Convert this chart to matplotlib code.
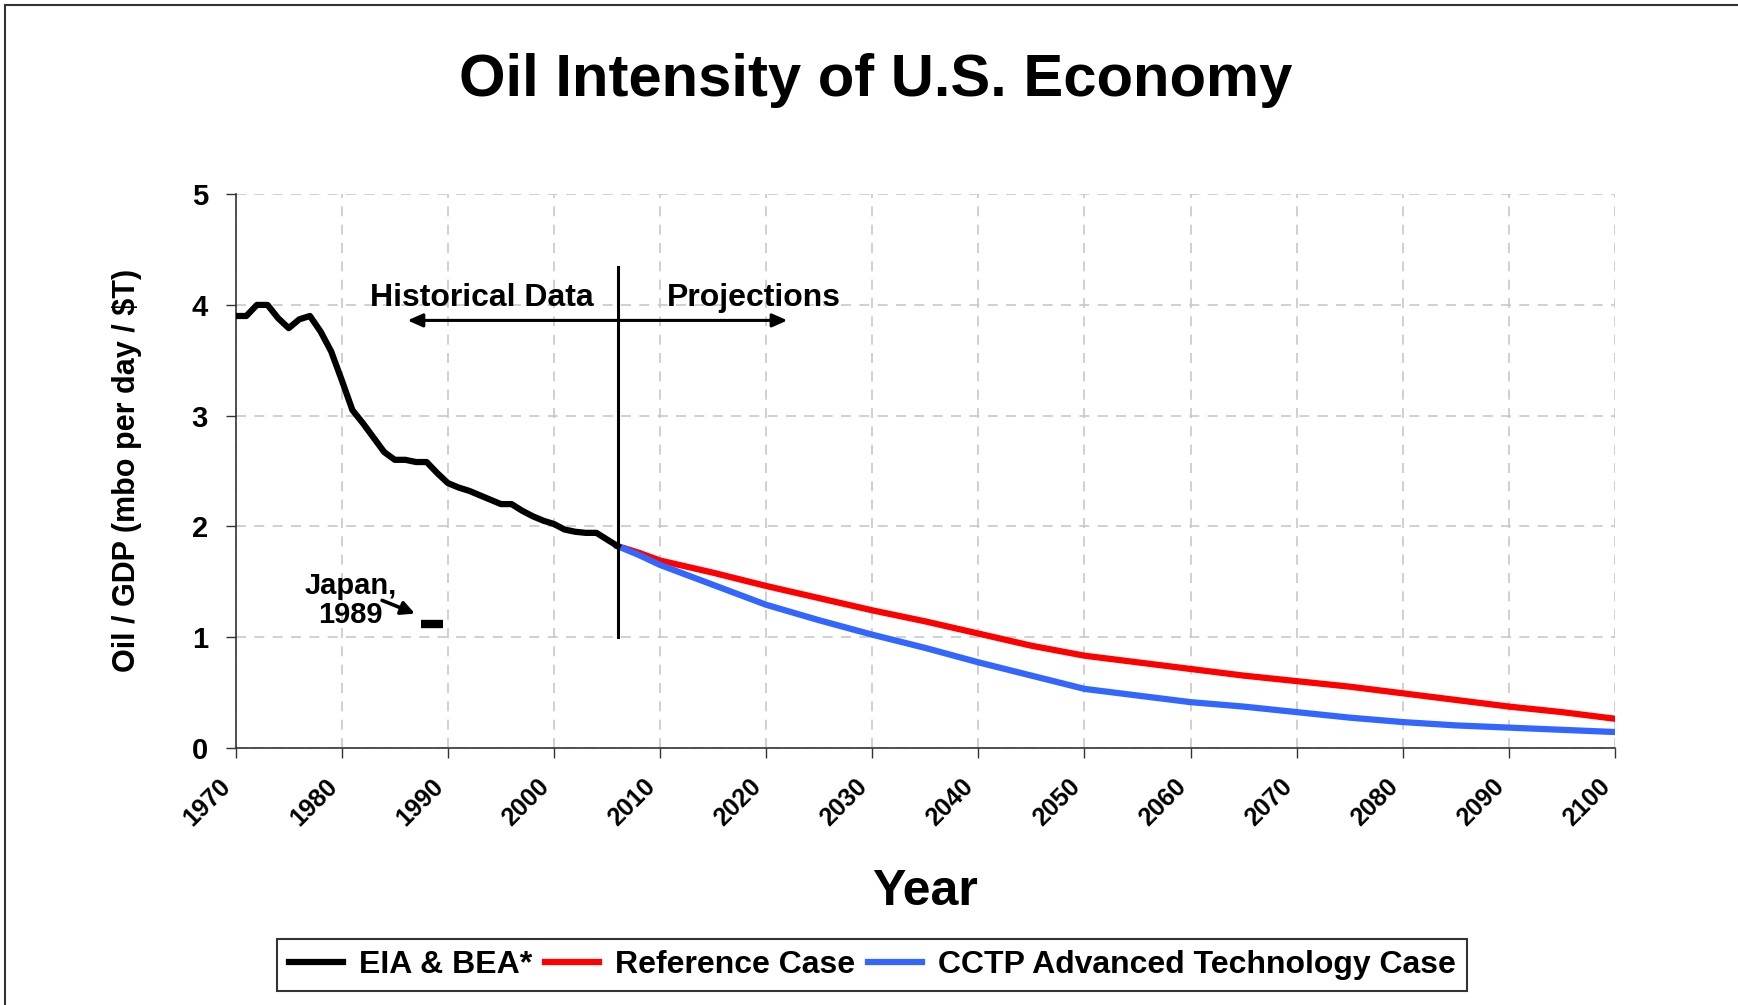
import matplotlib
matplotlib.use('Agg')
import matplotlib.pyplot as plt
from matplotlib.lines import Line2D

plt.rcParams['font.family'] = ['Liberation Sans', 'DejaVu Sans']
plt.rcParams['font.weight'] = 'bold'

# historical data (EIA & BEA), one value per year 1970-2006
hist_years = list(range(1970, 2007))
hist_vals = [3.90, 3.90, 4.00, 4.00, 3.88, 3.79, 3.87, 3.90, 3.76, 3.58,
             3.32, 3.05, 2.93, 2.80, 2.67, 2.60, 2.60, 2.58, 2.58, 2.48,
             2.39, 2.35, 2.32, 2.28, 2.24, 2.20, 2.20, 2.14, 2.09, 2.05,
             2.02, 1.97, 1.95, 1.94, 1.94, 1.88, 1.82]

# projections
proj_years = [2006, 2008, 2010, 2015, 2020, 2025, 2030, 2035, 2040, 2045, 2050,
              2055, 2060, 2065, 2070, 2075, 2080, 2085, 2090, 2095, 2100]
ref_vals = [1.82, 1.76, 1.69, 1.58, 1.46, 1.35, 1.24, 1.14, 1.03, 0.92, 0.83,
            0.77, 0.71, 0.65, 0.60, 0.55, 0.49, 0.43, 0.37, 0.32, 0.26]
cctp_vals = [1.82, 1.74, 1.65, 1.47, 1.29, 1.15, 1.02, 0.90, 0.77, 0.65, 0.53,
             0.47, 0.41, 0.37, 0.32, 0.27, 0.23, 0.20, 0.18, 0.16, 0.14]

japan_year = 1988.5
japan_val = 1.12

xticks = list(range(1970, 2101, 10))
yticks = [0, 1, 2, 3, 4, 5]

fig = plt.figure(figsize=(17.38, 10.05), dpi=100)
ax = fig.add_axes([0.1356, 0.2562, 0.7936, 0.5505])

ax.plot(proj_years, cctp_vals, color='#3366ff', lw=4.5, solid_joinstyle='round', zorder=3,
        label='CCTP Advanced Technology Case')
ax.plot(proj_years, ref_vals, color='#ff0000', lw=4.5, solid_joinstyle='round', zorder=2,
        label='Reference Case')
ax.plot(hist_years, hist_vals, color='black', lw=4.5, solid_joinstyle='round', zorder=4,
        label='EIA & BEA*')
ax.plot([japan_year], [japan_val], marker='_', ms=16, mew=6, color='black', zorder=4)

ax.set_xlim(1970, 2100)
ax.set_ylim(0, 5)
ax.set_xticks(xticks)
ax.set_yticks(yticks)
ax.set_xticklabels([str(x) for x in xticks], rotation=45, ha='right', fontsize=18, fontweight='bold')
ax.set_yticklabels([str(y) for y in yticks], fontsize=21, fontweight='bold')
ax.tick_params(axis='x', direction='out', length=7, width=1, pad=12, color='#333333')
ax.tick_params(axis='y', direction='out', length=7, width=1, pad=13, color='#333333')

ax.grid(True, color='#c8c8c8', linestyle=(0, (6, 5)), lw=1.2)
ax.set_axisbelow(True)
for s in ['top', 'right']:
    ax.spines[s].set_visible(False)
for s in ['left', 'bottom']:
    ax.spines[s].set_color('#333333')
    ax.spines[s].set_linewidth(1.2)

ax.set_ylabel('Oil / GDP (mbo per day / $T)', fontsize=22, fontweight='bold', labelpad=36)
ax.set_xlabel('Year', fontsize=36, fontweight='bold', labelpad=28)

# divider between history and projections
ax.plot([2006, 2006], [1.0, 4.34], color='black', lw=2.2, zorder=5)
ax.annotate('', xy=(1986.2, 3.86), xytext=(2022, 3.86),
            arrowprops=dict(arrowstyle='<|-|>,head_length=0.9,head_width=0.4', color='black',
                            lw=2.2, shrinkA=0, shrinkB=0))
ax.text(1993.2, 4.06, 'Historical Data', fontsize=23, fontweight='bold', ha='center', va='center')
ax.text(2018.8, 4.06, 'Projections', fontsize=23, fontweight='bold', ha='center', va='center')

ax.text(1980.8, 1.33, 'Japan,\n1989', fontsize=21, fontweight='bold', ha='center', va='center',
        linespacing=1.05)
ax.annotate('', xy=(1986.9, 1.21), xytext=(1983.8, 1.33),
            arrowprops=dict(arrowstyle='-|>,head_length=0.8,head_width=0.4', color='black',
                            lw=2.6, shrinkA=0, shrinkB=0))

fig.text(0.504, 0.920, 'Oil Intensity of U.S. Economy', fontsize=43, fontweight='bold',
         ha='center', va='center')

handles, labels = ax.get_legend_handles_labels()
order = [2, 1, 0]
leg = fig.legend([handles[i] for i in order], [labels[i] for i in order],
                 loc='center', bbox_to_anchor=(0.502, 0.040), ncol=3, fontsize=23,
                 frameon=True, fancybox=False, edgecolor='black', handlelength=1.7,
                 handletextpad=0.5, columnspacing=0.4, borderpad=0.35)
leg.get_frame().set_linewidth(1.5)
for t in leg.get_texts():
    t.set_fontweight('bold')

# border along top and left edges
fig.add_artist(Line2D([5 / 1738, 5 / 1738], [0, 1 - 5 / 1005], transform=fig.transFigure,
                      color='#333333', lw=1.5))
fig.add_artist(Line2D([5 / 1738, 1], [1 - 5 / 1005, 1 - 5 / 1005], transform=fig.transFigure,
                      color='#333333', lw=1.5))

fig.savefig('out.png', dpi=100)
